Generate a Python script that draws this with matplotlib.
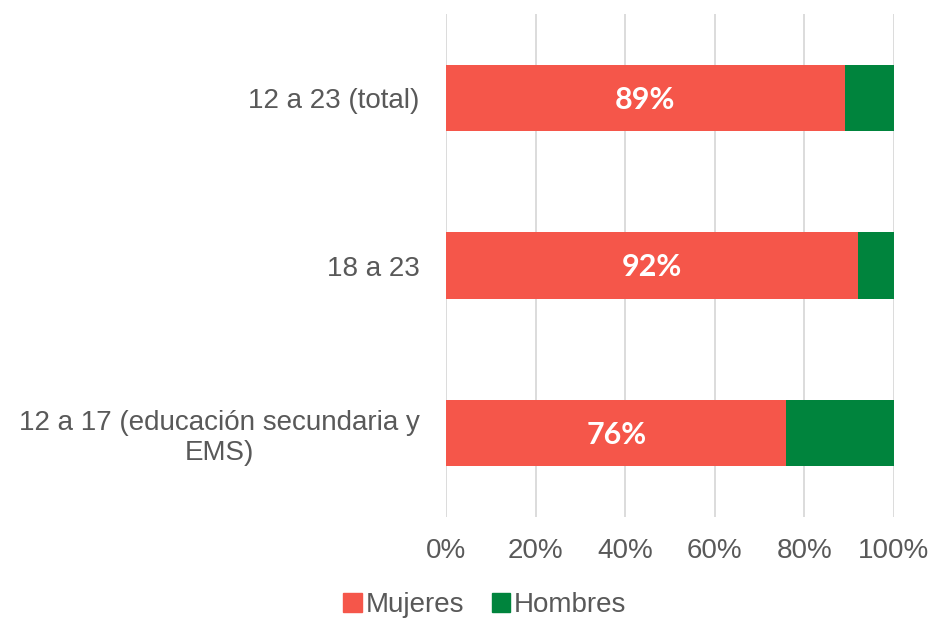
import matplotlib
matplotlib.use("Agg")
import matplotlib.pyplot as plt
import matplotlib.patches as mpatches
import numpy as np

# datos (de arriba hacia abajo)
categorias = ["12 a 23 (total)", "18 a 23", "12 a 17 (educación secundaria y\nEMS)"]
mujeres = [89, 92, 76]
hombres = [11, 8, 24]
series = ["Mujeres", "Hombres"]
xticks = [0, 20, 40, 60, 80, 100]

ROJO = "#F5564A"
VERDE = "#00843D"
GRIS_TXT = "#595959"

plt.rcParams["font.family"] = ["Liberation Sans", "DejaVu Sans"]

fig = plt.figure(figsize=(9.33, 6.19), dpi=100)
ax = fig.add_axes([446 / 933, 102 / 619, 448 / 933, 503 / 619])

y = np.arange(len(categorias))
h = 0.395
bars_m = ax.barh(y, mujeres, height=h, color=ROJO, zorder=3)
ax.barh(y, hombres, left=mujeres, height=h, color=VERDE, zorder=3)

for b, v in zip(bars_m, mujeres):
    ax.text(b.get_width() / 2, b.get_y() + b.get_height() / 2 + 0.01, f"{v}%",
            ha="center", va="center", color="white", fontsize=22,
            fontweight="bold", family=["Lato", "DejaVu Sans"], zorder=4)

ax.set_xlim(0, 100)
ax.set_ylim(len(categorias) - 0.5, -0.5)
ax.set_xticks(xticks)
ax.set_xticklabels([f"{t}%" for t in xticks])
ax.set_yticks(y)
ax.set_yticklabels(categorias)
for lab in ax.get_yticklabels():
    lab.set_multialignment("center")
ax.tick_params(axis="both", length=0, labelsize=20, colors=GRIS_TXT)
ax.tick_params(axis="x", pad=15)
ax.tick_params(axis="y", pad=19)
ax.grid(axis="x", color="#D9D9D9", lw=1.3, zorder=0)
for s in ax.spines.values():
    s.set_visible(False)

handles = [mpatches.Patch(color=ROJO), mpatches.Patch(color=VERDE)]
fig.legend(handles, series, loc="center", bbox_to_anchor=(485 / 933, 1 - 605 / 619),
           ncol=2, frameon=False, fontsize=20, handlelength=0.65, handleheight=0.65,
           handletextpad=0.15, columnspacing=1.0, labelcolor=GRIS_TXT)

fig.savefig("out.png", dpi=100)
